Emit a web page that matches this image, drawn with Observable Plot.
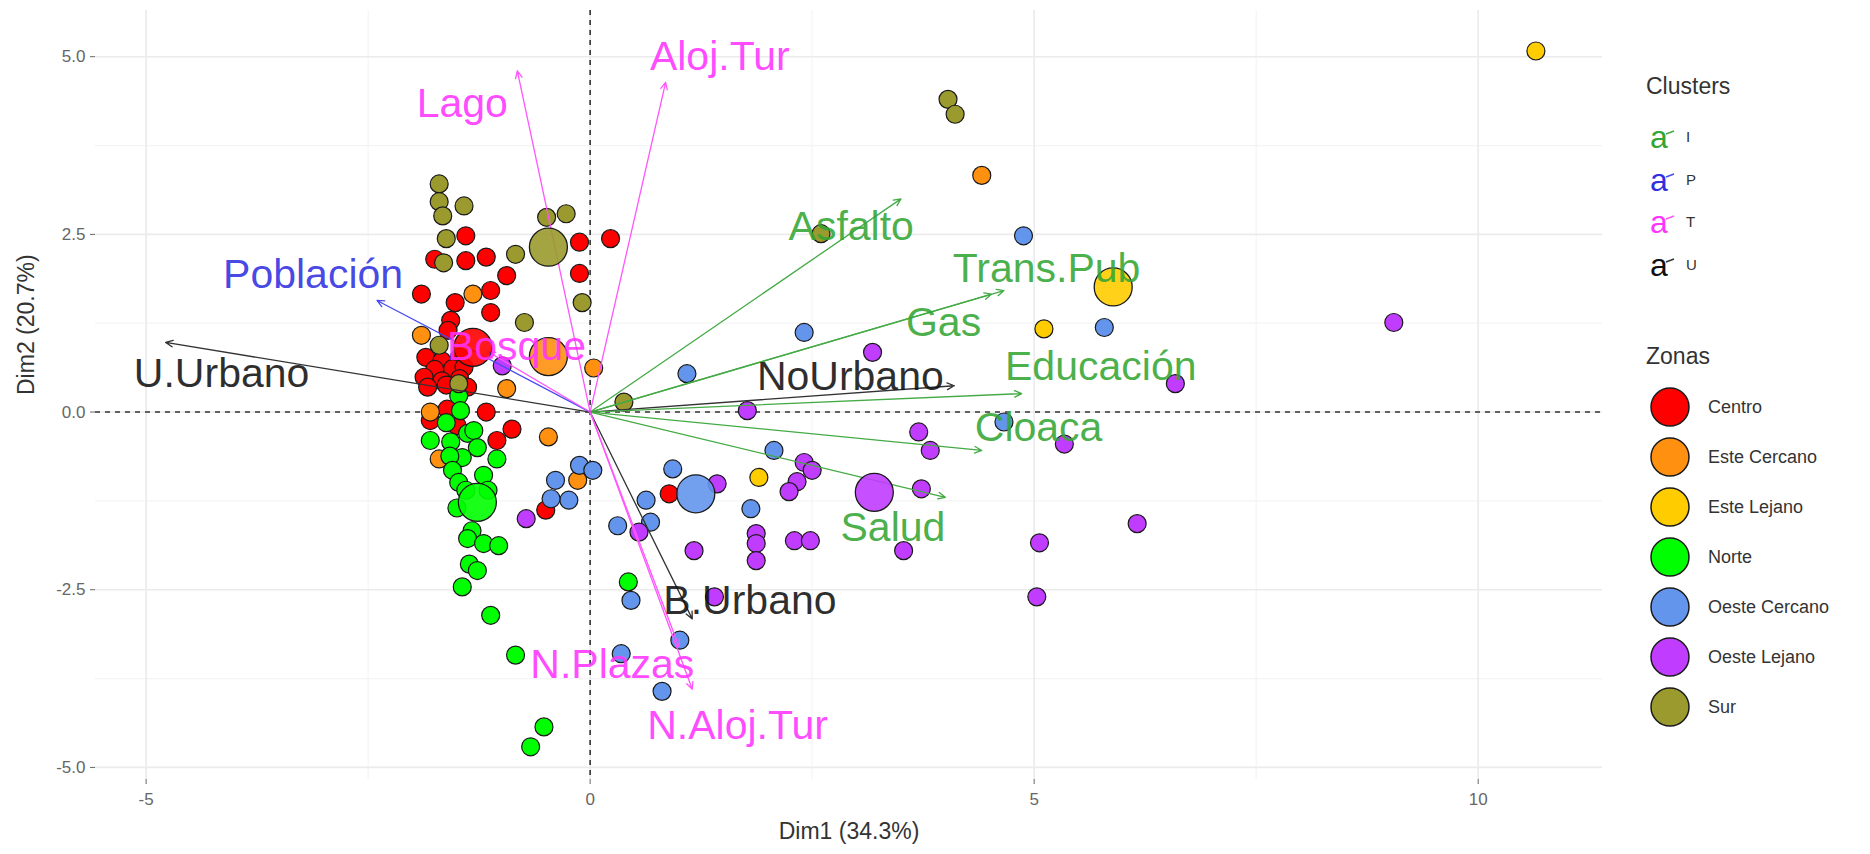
<!DOCTYPE html>
<html><head><meta charset="utf-8">
<script src="https://cdn.jsdelivr.net/npm/d3@7"></script>
<script src="https://cdn.jsdelivr.net/npm/@observablehq/plot@0.6"></script>
<style>
body{margin:0;background:#fff;font-family:"Liberation Sans",Arial,sans-serif;}
#wrap{position:relative;width:1870px;height:854px;overflow:hidden;}
#legend{position:absolute;left:0;top:0;}
</style></head><body><div id="wrap"></div>
<script>
// ---- Data ----
const zoneNames = ["Centro","Este Cercano","Este Lejano","Norte","Oeste Cercano","Oeste Lejano","Sur"];
const zoneColors = ["#ff0000","#ff9010","#ffcc00","#00ff00","#6495ed","#c03cff","#9a9a2e"];

const centro = [[-1.40,2.48],[-1.75,2.15],[-1.40,2.13],[-1.17,2.18],[-0.94,1.92],[-0.12,2.39],[0.23,2.44],[-0.12,1.95],
 [-1.90,1.66],[-1.12,1.71],[-1.52,1.54],[-1.12,1.40],[-1.57,1.29],[-1.60,1.15],
 [-1.85,0.77],[-1.67,0.72],[-1.47,0.77],[-1.55,0.61],[-1.75,0.60],[-1.42,0.63],[-1.87,0.49],[-1.67,0.44],[-1.47,0.47],[-1.83,0.35],[-1.62,0.38],[-1.38,0.35],
 [-1.61,0.04],[-1.17,0.00],[-1.50,-0.19],[-1.80,-0.12],[-0.88,-0.24],[-1.05,-0.40],[0.89,-1.15],[-0.50,-1.38]];
const esteCercano = [[-1.32,1.66],[-1.90,1.08],[0.04,0.62],[-0.94,0.33],[-1.80,0.00],[-0.47,-0.35],[-1.70,-0.66],[-0.14,-0.96],[4.41,3.33]];
const esteLejano = [[10.65,5.08],[5.11,1.17],[1.90,-0.92]];
const norte = [[-1.48,0.23],[-1.46,0.02],[-1.62,-0.15],[-1.38,-0.30],[-1.80,-0.40],[-1.57,-0.42],[-1.31,-0.26],[-1.27,-0.50],[-1.44,-0.64],[-1.58,-0.62],[-1.05,-0.66],[-1.55,-0.82],[-1.48,-0.99],[-1.20,-0.89],[-1.40,-1.10],[-1.15,-1.10],[-1.50,-1.35],[-1.33,-1.67],[-1.38,-1.78],[-1.20,-1.85],[-1.03,-1.88],[-1.36,-2.14],[-1.27,-2.23],[-1.44,-2.46],[-1.12,-2.86],[-0.84,-3.42],[-0.52,-4.43],[-0.67,-4.71],[0.43,-2.39]];
const oesteCercano = [[1.09,0.54],[2.41,1.12],[4.88,2.48],[5.79,1.19],[4.66,-0.14],[2.07,-0.54],[0.93,-0.80],[0.63,-1.24],[0.31,-1.60],[0.68,-1.55],[1.81,-1.36],[-0.12,-0.75],[0.03,-0.82],[-0.39,-0.96],[-0.24,-1.24],[-0.44,-1.22],[0.46,-2.65],[1.01,-3.21],[0.35,-3.40],[0.81,-3.93]];
const oesteLejano = [[3.18,0.84],[1.77,0.02],[3.70,-0.28],[3.83,-0.54],[5.34,-0.45],[6.59,0.40],[9.05,1.26],[3.73,-1.08],[6.16,-1.57],[5.06,-1.84],[5.03,-2.60],[3.53,-1.95],[2.41,-0.71],[2.50,-0.82],[2.33,-0.98],[2.24,-1.12],[1.87,-1.71],[1.87,-1.85],[1.87,-2.09],[2.30,-1.81],[2.48,-1.81],[1.17,-1.95],[1.43,-1.01],[1.40,-2.60],[0.55,-1.69],[-0.72,-1.50],[-0.99,0.65]];
const sur = [[-1.70,3.21],[-1.70,2.96],[-1.42,2.90],[-1.66,2.76],[-1.62,2.44],[-1.65,2.10],[-0.84,2.22],[-0.49,2.74],[-0.27,2.79],[-0.09,1.54],[-0.74,1.26],[-1.70,0.94],[-1.48,0.40],[0.38,0.14],[4.03,4.40],[4.11,4.19],[2.60,2.51]];
const zonePoints = [centro, esteCercano, esteLejano, norte, oesteCercano, oesteLejano, sur];
const centroidX = [-1.32,-0.47,5.89,-1.27,1.19,3.20,-0.47];
const centroidY = [0.91,0.78,1.76,-1.27,-1.15,-1.13,2.32];

const varNames = ["Lago","Aloj.Tur","Población","U.Urbano","Bosque","Asfalto","Trans.Pub","Gas","NoUrbano","Educación","Cloaca","Salud","B.Urbano","N.Plazas","N.Aloj.Tur"];
const varCluster = ["T","T","P","U","T","I","I","I","U","I","I","I","U","T","T"];
const varX = [-0.82,0.85,-2.40,-4.78,-1.15,3.50,4.66,4.52,4.10,4.86,4.41,4.00,1.15,1.00,1.15];
const varY = [4.80,4.64,1.57,0.98,0.85,3.00,1.71,1.66,0.37,0.26,-0.54,-1.20,-2.91,-3.30,-3.90];
const labelX = [-1.44,1.46,-3.12,-4.15,-0.83,2.94,5.14,3.98,2.93,5.75,5.05,3.41,1.80,0.25,1.66];
const labelY = [4.34,5.00,1.93,0.54,0.92,2.60,2.01,1.26,0.50,0.64,-0.22,-1.63,-2.65,-3.56,-4.41];
const clusterNames = ["I","P","T","U"];
const clusterText = ["#33a533","#3030e0","#ff33ff","#111111"];
const clusterLine = ["#44aa44","#4a4af0","#ff55ff","#333333"];

const xTicks = [-5,0,5,10], xMinor = [-2.5,2.5,7.5];
const yTicks = [-5,-2.5,0,2.5,5], yMinor = [-3.75,-1.25,1.25,3.75];

// ---- Tables ----
const pts = zonePoints.flatMap((arr,i)=>arr.map(([x,y])=>({x,y,fill:zoneColors[i]})));
const cents = zoneNames.map((z,i)=>({x:centroidX[i],y:centroidY[i],fill:zoneColors[i]}));
const vars = varNames.map((n,i)=>{const c=clusterNames.indexOf(varCluster[i]);return {name:n,x1:0,y1:0,x2:varX[i],y2:varY[i],lx:labelX[i],ly:labelY[i],line:clusterLine[c],txt:clusterText[c]};});

const font = "'Liberation Sans',Arial,sans-serif";
const chart = Plot.plot({
  width:1870, height:854, marginLeft:95, marginRight:268, marginTop:10, marginBottom:75,
  x:{domain:[-5.57,11.40]}, y:{domain:[-5.17,5.65]},
  color:{type:"identity"},
  style:{fontFamily:font, background:"#fff"},
  marks:[
    Plot.gridX(xMinor,{stroke:"#f4f4f4",strokeOpacity:1,strokeWidth:1.2}),
    Plot.gridY(yMinor,{stroke:"#f4f4f4",strokeOpacity:1,strokeWidth:1.2}),
    Plot.gridX(xTicks,{stroke:"#ebebeb",strokeOpacity:1,strokeWidth:1.6}),
    Plot.gridY(yTicks,{stroke:"#ebebeb",strokeOpacity:1,strokeWidth:1.6}),
    Plot.axisX({ticks:xTicks, tickFormat:d=>String(d), tickSize:5, tickPadding:8, fontSize:17, color:"#666", label:null}),
    Plot.axisY({ticks:yTicks, tickFormat:d=>d.toFixed(1), tickSize:5, tickPadding:5, fontSize:17, color:"#666", label:null}),
    Plot.ruleX([0],{stroke:"#333",strokeWidth:1.6,strokeDasharray:"5,5"}),
    Plot.ruleY([0],{stroke:"#333",strokeWidth:1.6,strokeDasharray:"5,5"}),
    Plot.dot(pts,{x:"x",y:"y",r:9,fill:"fill",stroke:"#1a1a1a",strokeWidth:1.2}),
    Plot.arrow(vars,{x1:"x1",y1:"y1",x2:"x2",y2:"y2",stroke:"line",strokeWidth:1.3,headLength:9,headAngle:50}),
    Plot.dot(cents,{x:"x",y:"y",r:19,fill:"fill",fillOpacity:0.9,stroke:"#1a1a1a",strokeWidth:1.3}),
    Plot.text(vars,{x:"lx",y:"ly",text:"name",fill:"txt",fillOpacity:0.88,fontSize:41,textAnchor:"middle"}),
    Plot.text(["Dim1 (34.3%)"],{frameAnchor:"bottom",dy:59,fontSize:23,fill:"#333"}),
    Plot.text(["Dim2 (20.7%)"],{frameAnchor:"left",dx:-69,rotate:-90,fontSize:23,fill:"#333"})
  ]
});
const wrap = document.getElementById("wrap");
wrap.appendChild(chart);

// ---- Legend ----
const lg = d3.select(wrap).append("svg").attr("id","legend").attr("width",1870).attr("height",854)
  .style("font-family",font);
lg.append("text").attr("x",1646).attr("y",94).attr("font-size",23).attr("fill","#333").text("Clusters");
const clY = [137,180,222,265];
clusterNames.forEach((c,i)=>{
  lg.append("text").attr("x",1659).attr("y",clY[i]).attr("dy","0.35em").attr("text-anchor","middle")
    .attr("font-size",32).attr("fill",clusterText[i]).text("a");
  lg.append("path").attr("d",`M1666,${clY[i]-3}L1674,${clY[i]-6}`).attr("stroke",clusterLine[i]).attr("stroke-width",1.5);
  lg.append("text").attr("x",1686).attr("y",clY[i]).attr("dy","0.35em").attr("font-size",15).attr("fill","#333").text(c);
});
lg.append("text").attr("x",1646).attr("y",364).attr("font-size",23).attr("fill","#333").text("Zonas");
zoneNames.forEach((z,i)=>{
  const cy = 407 + i*50;
  lg.append("circle").attr("cx",1670).attr("cy",cy).attr("r",19).attr("fill",zoneColors[i]).attr("stroke","#1a1a1a").attr("stroke-width",1.5);
  lg.append("text").attr("x",1708).attr("y",cy).attr("dy","0.35em").attr("font-size",18).attr("fill","#333").text(z);
});
</script></body></html>
